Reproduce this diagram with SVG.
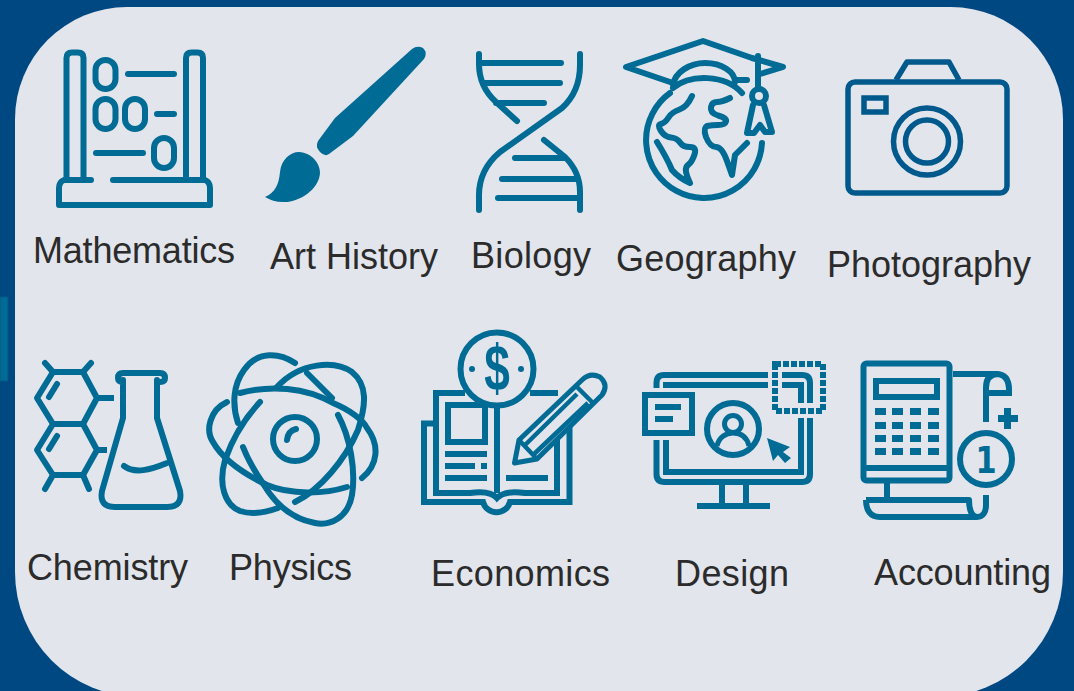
<svg xmlns="http://www.w3.org/2000/svg" width="1074" height="691" viewBox="0 0 1074 691">
<style>
.i{fill:none;stroke:#006b94;stroke-width:6;stroke-linecap:round;stroke-linejoin:round}
.s{fill:none;stroke:#006b94;stroke-width:6;stroke-linecap:butt;stroke-linejoin:miter}
.f{fill:#006b94;stroke:none}
.c{fill:none;stroke:#00598c;stroke-width:5.5;stroke-linejoin:round}
.l{font-family:"Liberation Sans",Arial,sans-serif;font-size:36px;fill:#2b2b2b}
</style>
<rect width="1074" height="691" fill="#004882"/>
<rect x="0" y="297" width="8" height="84" fill="#006b94" stroke="#005a84" stroke-width="1"/>
<path fill="#e2e5eb" d="M127,7H951A112,112 0 0 1 1063,119V572A125,125 0 0 1 938,697H140A125,125 0 0 1 15,572V119A112,112 0 0 1 127,7Z"/>

<g id="mathematics">
<path class="i" d="M66.500,180V58Q66.500,52.500 72,52.500H78Q83.500,52.500 83.500,58V180M186,180V58Q186,52.500 191.500,52.500H197.500Q203,52.500 203,58V180"/>
<path class="i" d="M91,180H64Q59,182 59,188V205H210V188Q210,182 205,180H113"/>
<rect class="i" x="95.500" y="60" width="20" height="29" rx="10"/>
<rect class="i" x="95.500" y="99" width="20" height="30" rx="10"/>
<rect class="i" x="125" y="99" width="20" height="30" rx="10"/>
<rect class="i" x="154" y="138" width="20" height="30" rx="10"/>
<path class="i" d="M128,74H174M157,114H174M96,153H143"/>
<text class="l" x="33" y="263" textLength="202">Mathematics</text>
</g>

<g id="art-history">
<path class="f" d="M412,49Q417,45 423,48Q428,53 424,59L353,136L329,154Q325,157 320,152Q315,147 318,141L335,118Z"/>
<path class="f" d="M265,197C275,193 279,184 280,172C281,160 290,152 299,152C312,153 320,163 320,173C319,190 298,203 283,202C276,202 270,200 265,197Z"/>
<text class="l" x="270" y="269" textLength="168">Art History</text>
</g>

<g id="biology">
<path class="i" d="M479,54V64C479,80 485,92 496,102L517,121M479,63H561M485,83H560M496,103H544"/>
<path class="i" d="M580,54V65C580,85 573,98 562,108L500,152C487,163 479,178 479,195V210"/>
<path class="i" d="M544,140L565,157C575,167 580,178 580,192V210M515,158H565M502,179H575M498,198H580"/>
<text class="l" x="471" y="268" textLength="120">Biology</text>
</g>

<g id="geography">
<path class="i" d="M670,82L626,67L703,41L752,58L783,67L760,74M758,56V88"/>
<path class="i" d="M673,85C675,72 690,63 705,63C722,63 735,72 735,82M735,80H747M673,88C690,74 725,74 742,93"/>
<circle class="i" cx="759" cy="96" r="7"/>
<path class="i" d="M753,105L747,133H754L760,125L765,132L772,132L764,105"/>
<path class="i" d="M670,93A58,58 0 1 0 762,143"/>
<path class="i" d="M692,96Q687,107 679.500,109.500Q672,112 668.500,117.500Q665,123 661,124Q657,125 661,131Q665,137 671,137.500Q677,138 680,142.500Q683,147 690,147Q697,147 694.500,154.500Q692,162 688.500,164.500Q685,167 686,172Q687,177 690,183Q679,178 672,170Q667,158 657,142"/>
<path class="i" d="M730,98Q722,102 717,102Q712,102 711,107Q710,113 718,115.500Q727,118 726,121.500Q725,125 718,125Q712,125 707,126Q703,128 706,137Q710,147 716,147Q722,147 727,161L732,175L735,155L747,143"/>
<text class="l" x="616" y="271" textLength="180">Geography</text>
</g>

<g id="photography">
<rect class="c" x="848" y="82" width="159" height="111" rx="7"/>
<path class="c" d="M896,80L907,62H949L959,80"/>
<rect class="c" x="864" y="98" width="22" height="14" style="stroke-linejoin:miter"/>
<circle class="c" cx="927" cy="141.500" r="33.500"/>
<circle class="c" cx="927" cy="141.500" r="21.500"/>
<text class="l" x="827" y="277" textLength="204">Photography</text>
</g>

<g id="chemistry">
<path class="i" d="M37,398L53,372H83L97,398L83,424H53ZM53,424L37,450L53,475H83L97,450L83,424"/>
<path class="i" d="M53,372L45,363M83,372L91,363M53,475L45,489M83,475L89,489M57,384L49,397M57,436L49,449"/>
<path class="s" d="M97,398H114M97,450H107"/>
<path class="i" d="M123,382Q118,382 118,378Q118,373 123,373H160Q165,373 165,378Q165,382 160,382M123,380V418L102,491Q99,507 115,507H167Q183,507 180,491L157,418V380M124,466C135,474 150,470 167,463"/>
<text class="l" x="27" y="580" textLength="161">Chemistry</text>
</g>

<g id="physics">
<circle class="i" cx="295" cy="439" r="22"/>
<path class="i" d="M287,440Q288,431 296,429"/>
<path class="i" d="M295,363C280,353 258,350 244,370C233,385 232,405 238,423M307,373L332,398M338,415C350,437 356,470 352,495C348,518 330,526 315,523C293,519 276,505 264,485C255,472 248,460 243,447"/>
<path class="i" d="M240,393C270,385 305,387 333,403C350,410 363,420 367,428C380,445 378,465 362,478M227,402C210,410 205,430 213,442C222,458 240,472 267,485C290,495 325,494 347,487"/>
<path class="i" d="M260,402C245,418 232,440 225,460C218,485 225,505 240,511C252,515 267,512 278,508M295,502C320,490 345,460 358,430C366,405 368,385 352,372C335,360 300,362 277,387"/>
<text class="l" x="229" y="580" textLength="123">Physics</text>
</g>

<g id="economics">
<path class="s" d="M433,423.500H424V502H483A14,14 0 0 0 510,502H569.500V427M436,423V393H465M436,393V493H470Q490,490 497,498Q505,490 525,493H557V428M530,393H558M497,405V493"/>
<rect class="s" x="448" y="405" width="37" height="37"/>
<path class="f" d="M445,451h42v6h-42zM445,463h30v6h-30zM481,463h6v6h-6zM445,475h42v6h-42zM506,475h42v6h-42z"/>
<circle class="s" cx="497" cy="369" r="36.500" style="fill:#e2e5eb"/>
<circle class="f" cx="472" cy="369" r="3"/>
<circle class="f" cx="521" cy="369" r="3"/>
<text transform="translate(497,390) scale(1,1.400)" text-anchor="middle" style="font-family:'Liberation Sans',Arial,sans-serif;font-size:46px;font-weight:bold;fill:#006b94">$</text>
<path class="i" style="fill:#e2e5eb;stroke-width:5;stroke-linecap:butt" d="M514.500,463L519,440L582,380Q590,372 600,377Q609,385 602,395L537,459Z"/>
<path class="s" style="stroke-width:4.500" d="M524,446L577,394M533,455L588,403M577,387L592,402M519,440L537,459"/>
<text class="l" x="431" y="586" textLength="179">Economics</text>
</g>

<g id="design">
<path class="s" d="M768,375H664Q656.500,375 656.500,383V388M656.500,440V474Q656.500,482 664.500,482H802Q810,482 810,474V418M782,375H802Q810,375 810,383V403"/>
<path class="s" d="M663,385H768M666,440V472H801V418M782,385H801V403"/>
<path class="s" d="M722,485V503M746,485V503M697,506H770"/>
<rect class="s" x="645" y="395" width="47" height="38" style="fill:#e2e5eb"/>
<path class="f" d="M655,404h26v6h-26zM655,416h18v6h-18z"/>
<circle class="s" cx="733" cy="429" r="26"/>
<circle class="s" cx="733" cy="424" r="8.500" style="stroke-width:5"/>
<path class="s" style="stroke-width:5" d="M717,446C719,437 726,433 733,433C741,433 747,437 749,446"/>
<path class="f" d="M767,438L790,447L783,452L791,458L785,463L778,455L773,461Z"/>
<rect x="775" y="364" width="48" height="47" fill="none" stroke="#006b94" stroke-width="6" stroke-dasharray="6 2"/>
<text class="l" x="675" y="586" textLength="114">Design</text>
</g>

<g id="accounting">
<rect class="s" x="863.500" y="363.500" width="86" height="117" rx="3" style="stroke-linejoin:round"/>
<path class="s" d="M863,468H950"/>
<rect class="s" x="876" y="381" width="61" height="16"/>
<path class="f" d="M875,408h11v7h-11zM892,408h11v7h-11zM910,408h11v7h-11zM928,408h11v7h-11zM875,422h11v7h-11zM892,422h11v7h-11zM910,422h11v7h-11zM928,422h11v7h-11zM875,435h11v7h-11zM892,435h11v7h-11zM910,435h11v7h-11zM928,435h11v7h-11zM875,448h11v7h-11zM892,448h11v7h-11zM910,448h11v7h-11zM928,448h11v7h-11z"/>
<path class="s" d="M953,374H996Q1009,374 1009,390V393H986M986,422V388Q986,374 998,374"/>
<path class="f" d="M998,415h20v7h-20zM1004,408h7v21h-7z"/>
<circle class="s" cx="986" cy="459" r="26"/>
<text transform="translate(986,473) scale(0.800,1)" text-anchor="middle" style="font-family:'DejaVu Sans',sans-serif;font-size:38px;font-weight:bold;fill:#006b94">1</text>
<path class="s" d="M887,483V498"/>
<path class="s" style="stroke-linejoin:round" d="M866,500H969C969,510 972,517 977,517C983,517 986,512 986,505V495M866,500C866,510 870,517 880,517H977"/>
<text class="l" x="874" y="585" textLength="177">Accounting</text>
</g>
</svg>
